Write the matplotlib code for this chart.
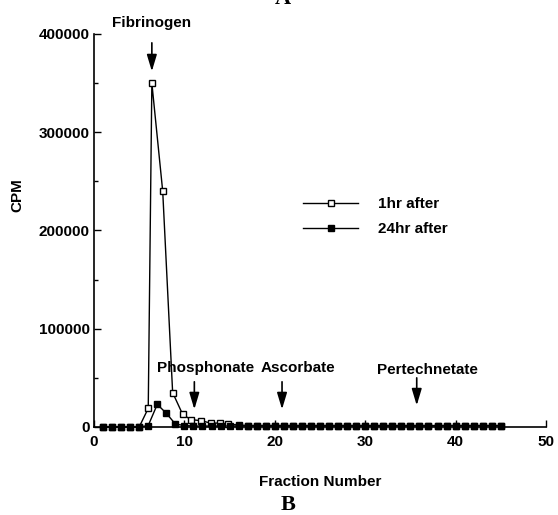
import matplotlib
matplotlib.use("Agg")
import matplotlib.pyplot as plt
from matplotlib.ticker import MultipleLocator

plt.rcParams['font.family'] = ['Liberation Sans', 'DejaVu Sans']

# ---- data ----
frac_1hr = [1, 2, 3, 4, 5, 6, 6.4, 7.6, 8.7, 9.8, 10.7, 11.8, 12.9, 13.9, 14.8,
            16, 17, 18, 19, 20, 21, 22, 23, 24, 25, 26, 27, 28, 29, 30,
            31, 32, 33, 34, 35, 36, 37, 38, 39, 40, 41, 42, 43, 44, 45]
cpm_1hr = [0, 0, 0, 0, 0, 19000, 350000, 240000, 35000, 13000, 7500, 6500, 4000, 4000, 3000,
           2000, 1500, 1500, 1500, 1500, 1500, 1500, 1500, 1500, 1500, 1500, 1500, 1500, 1500, 1500,
           1500, 1500, 1500, 1500, 1500, 1500, 1500, 1500, 1500, 1500, 1500, 1500, 1500, 1500, 1500]

frac_24hr = list(range(1, 46))
cpm_24hr = [0, 0, 0, 0, 0, 1500, 23000, 14000, 3000, 1500, 1000, 1000, 1000, 1000, 1000,
            1000, 1000, 1000, 1000, 1000, 1000, 1000, 1000, 1000, 1000, 1000, 1000, 1000, 1000, 1000,
            1000, 1000, 1000, 1000, 1000, 1000, 1000, 1000, 1200, 1300, 1300, 1300, 1300, 1300, 1300]

series_labels = ["1hr after", "24hr after"]
x_ticks = [0, 10, 20, 30, 40, 50]
y_ticks = [0, 100000, 200000, 300000, 400000]

# peak annotations: (label, arrow x, arrow top, arrow tip, text x, text y)
annot_labels = ["Fibrinogen", "Phosphonate", "Ascorbate", "Pertechnetate"]
annot_x = [6.4, 11.1, 20.8, 35.7]
annot_top = [391000, 46000, 46000, 50000]
annot_tip = [362000, 18000, 18000, 22000]
annot_tx = [6.4, 12.3, 22.6, 36.9]
annot_ty = [411500, 60000, 60000, 58500]

W, H = 558, 515
fig = plt.figure(figsize=(W / 100, H / 100), dpi=100)
ax = fig.add_axes([94 / W, (H - 427) / H, (546 - 94) / W, (427 - 34) / H])

fs = 11
ax.plot(frac_1hr, cpm_1hr, color='black', lw=1.0, marker='s', ms=4.3,
        mfc='white', mec='black', mew=1.0, clip_on=False, zorder=3, label=series_labels[0])
ax.plot(frac_24hr, cpm_24hr, color='black', lw=1.0, marker='s', ms=5,
        mfc='black', mec='black', clip_on=False, zorder=4, label=series_labels[1])

ax.set_xlim(0, 50)
ax.set_ylim(0, 400000)
ax.set_xticks(x_ticks)
ax.set_yticks(y_ticks)
ax.yaxis.set_minor_locator(MultipleLocator(50000))
ax.set_yticklabels([str(v) for v in y_ticks], fontsize=fs, fontweight='bold')
ax.set_xticklabels([str(v) for v in x_ticks], fontsize=fs, fontweight='bold')
ax.tick_params(axis='both', which='major', direction='in', length=5, width=1.0)
ax.tick_params(axis='y', which='minor', direction='in', length=3, width=1.0)
ax.tick_params(axis='y', which='major', pad=3)
ax.tick_params(axis='x', which='major', pad=6)
for s in ['top', 'right']:
    ax.spines[s].set_visible(False)
for s in ['left', 'bottom']:
    ax.spines[s].set_linewidth(1.2)

ax.set_ylabel("CPM", fontsize=fs, fontweight='bold')
ax.yaxis.set_label_coords(-0.153, 0.59)
ax.set_xlabel("Fraction Number", fontsize=fs, fontweight='bold')
ax.xaxis.set_label_coords(0.5, -0.122)

for lab, x, yt, yp, tx, ty in zip(annot_labels, annot_x, annot_top, annot_tip, annot_tx, annot_ty):
    ax.annotate("", xy=(x, yp), xytext=(x, yt),
                arrowprops=dict(arrowstyle='-|>,head_length=1.0,head_width=0.3',
                                color='black', lw=1.2, shrinkA=0, shrinkB=0),
                annotation_clip=False)
    ax.text(tx, ty, lab, ha='center', va='center', fontsize=fs, fontweight='bold',
            clip_on=False)

leg = ax.legend(loc='upper left', bbox_to_anchor=(303 / W, (H - 197) / H),
                bbox_transform=fig.transFigure, frameon=False,
                prop={'weight': 'bold', 'size': fs}, handlelength=3.6,
                handletextpad=1.3, labelspacing=0.75, borderpad=0, borderaxespad=0)

fig.text(283 / W, 1 + 0.5 / H, "A", ha='center', va='center', fontsize=16,
         fontweight='bold', family='Liberation Serif')
fig.text(288 / W, (H - 505) / H, "B", ha='center', va='center', fontsize=16,
         fontweight='bold', family='Liberation Serif')

fig.savefig("out.png", dpi=100)
